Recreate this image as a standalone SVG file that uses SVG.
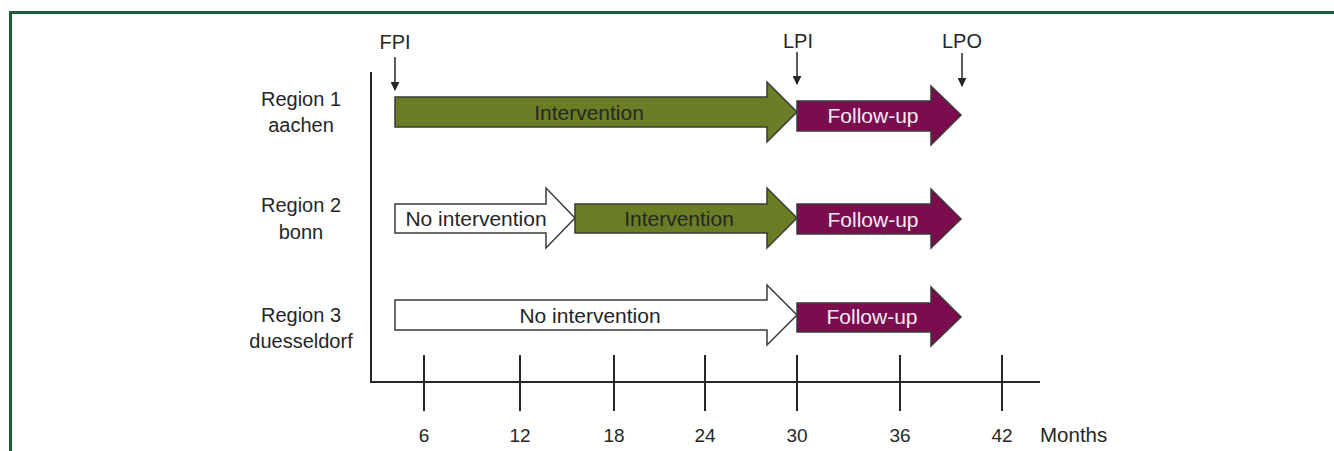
<svg xmlns="http://www.w3.org/2000/svg" width="1334" height="451" viewBox="0 0 1334 451">
<defs>
<style>
.t{font-family:"Liberation Sans",Arial,sans-serif;fill:#262626}
.lbl{font-size:20px;text-anchor:middle}
.ax{font-size:19px;text-anchor:middle}
.al{font-size:21px;text-anchor:middle}
.fu{font-family:"Liberation Sans",Arial,sans-serif;font-size:21px;text-anchor:middle;fill:#f4eaf0}
.green{fill:#6a7d24;stroke:#3a3a3a;stroke-width:1.5}
.purple{fill:#7b0c4e;stroke:#3a3a3a;stroke-width:1.5}
.white{fill:#ffffff;stroke:#3a3a3a;stroke-width:1.5}
.line{stroke:#262626;stroke-width:2;fill:none}
.pin{stroke:#262626;stroke-width:1.5;fill:none;marker-end:url(#ah)}
</style>
<marker id="ah" viewBox="0 0 10 10" refX="9" refY="5" markerWidth="6" markerHeight="6" orient="auto">
<path d="M0,0 L10,5 L0,10 z" fill="#262626"/>
</marker>
</defs>
<rect width="1334" height="451" fill="#ffffff"/>
<g id="frame">
<path d="M10.5,451 L10.5,12.5 L1334,12.5" fill="none" stroke="#1b5e37" stroke-width="3"/>
</g>
<g id="axes">
<line class="line" x1="371" y1="72" x2="371" y2="382"/>
<line class="line" x1="370" y1="382" x2="1040" y2="382"/>
<line class="line" x1="424" y1="355" x2="424" y2="411"/>
<line class="line" x1="520" y1="355" x2="520" y2="411"/>
<line class="line" x1="614" y1="355" x2="614" y2="411"/>
<line class="line" x1="705" y1="355" x2="705" y2="411"/>
<line class="line" x1="797" y1="355" x2="797" y2="411"/>
<line class="line" x1="900" y1="355" x2="900" y2="411"/>
<line class="line" x1="1002" y1="355" x2="1002" y2="411"/>
<text class="t ax" x="424" y="442">6</text>
<text class="t ax" x="520" y="442">12</text>
<text class="t ax" x="614" y="442">18</text>
<text class="t ax" x="705" y="442">24</text>
<text class="t ax" x="797" y="442">30</text>
<text class="t ax" x="900" y="442">36</text>
<text class="t ax" x="1002" y="442">42</text>
<text class="t" x="1040" y="442" font-size="20.5">Months</text>
</g>
<g id="milestones">
<text class="t lbl" x="395" y="49">FPI</text>
<line class="pin" x1="395" y1="57" x2="395" y2="90"/>
<text class="t lbl" x="798" y="48">LPI</text>
<line class="pin" x1="797" y1="52" x2="797" y2="84"/>
<text class="t lbl" x="962" y="48">LPO</text>
<line class="pin" x1="962" y1="53" x2="962" y2="86"/>
</g>
<g id="row-labels">
<text class="t lbl" x="301" y="106">Region 1</text>
<text class="t lbl" x="301" y="132">aachen</text>
<text class="t lbl" x="301" y="212">Region 2</text>
<text class="t lbl" x="301" y="239">bonn</text>
<text class="t lbl" x="301" y="322">Region 3</text>
<text class="t lbl" x="301" y="348">duesseldorf</text>
</g>
<g id="r1-intervention">
<path class="green" d="M395,97 L767,97 L767,82 L797,112 L767,142 L767,127 L395,127 Z"/>
<text class="t al" x="589" y="120">Intervention</text>
</g>
<g id="r1-followup">
<path class="purple" d="M797,101 L931,101 L931,86 L961,115 L931,145 L931,131 L797,131 Z"/>
<text class="fu" x="873" y="123">Follow-up</text>
</g>
<g id="r2-nointervention">
<path class="white" d="M395,204 L546,204 L546,188 L575,218 L546,248 L546,233 L395,233 Z"/>
<text class="t al" x="476" y="226">No intervention</text>
</g>
<g id="r2-intervention">
<path class="green" d="M575,204 L767,204 L767,188 L797,218 L767,248 L767,233 L575,233 Z"/>
<text class="t al" x="679" y="226">Intervention</text>
</g>
<g id="r2-followup">
<path class="purple" d="M797,204 L931,204 L931,189 L961,219 L931,248 L931,234 L797,234 Z"/>
<text class="fu" x="873" y="227">Follow-up</text>
</g>
<g id="r3-nointervention">
<path class="white" d="M395,300 L767,300 L767,285 L797,315 L767,345 L767,330 L395,330 Z"/>
<text class="t al" x="590" y="323">No intervention</text>
</g>
<g id="r3-followup">
<path class="purple" d="M797,303 L931,303 L931,287 L961,317 L931,346 L931,332 L797,332 Z"/>
<text class="fu" x="872" y="324">Follow-up</text>
</g>
</svg>
